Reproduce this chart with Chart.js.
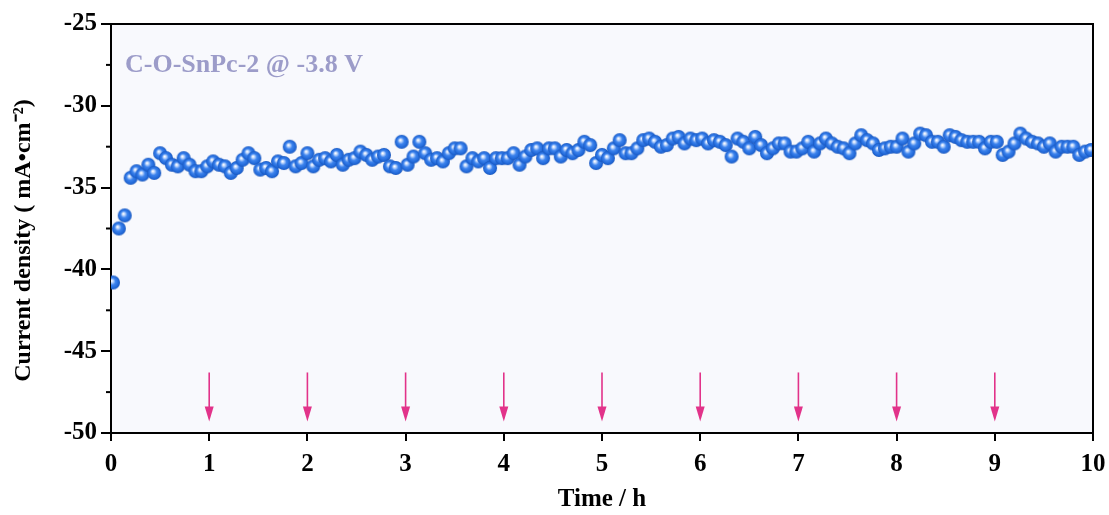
<!DOCTYPE html>
<html>
<head>
<meta charset="utf-8">
<script src="https://cdn.jsdelivr.net/npm/chart.js@4.4.1/dist/chart.umd.min.js"></script>
<style>
  html, body { margin: 0; padding: 0; background: #ffffff; }
  #wrap { width: 1109px; height: 515px; position: relative; }
</style>
</head>
<body>
<div id="wrap"><canvas id="c" width="1109" height="515"></canvas></div>
<script>
// Electrolysis time (h) and recorded current density (mA cm^-2)
const times = [
  0.02, 0.08, 0.14, 0.20, 0.26, 0.32, 0.38, 0.44, 0.50, 0.56,
  0.62, 0.68, 0.74, 0.80, 0.86, 0.92, 0.98, 1.04, 1.10, 1.16,
  1.22, 1.28, 1.34, 1.40, 1.46, 1.52, 1.58, 1.64, 1.70, 1.76,
  1.82, 1.88, 1.94, 2.00, 2.06, 2.12, 2.18, 2.24, 2.30, 2.36,
  2.42, 2.48, 2.54, 2.60, 2.66, 2.72, 2.78, 2.84, 2.90, 2.96,
  3.02, 3.08, 3.14, 3.20, 3.26, 3.32, 3.38, 3.44, 3.50, 3.56,
  3.62, 3.68, 3.74, 3.80, 3.86, 3.92, 3.98, 4.04, 4.10, 4.16,
  4.22, 4.28, 4.34, 4.40, 4.46, 4.52, 4.58, 4.64, 4.70, 4.76,
  4.82, 4.88, 4.94, 5.00, 5.06, 5.12, 5.18, 5.24, 5.30, 5.36,
  5.42, 5.48, 5.54, 5.60, 5.66, 5.72, 5.78, 5.84, 5.90, 5.96,
  6.02, 6.08, 6.14, 6.20, 6.26, 6.32, 6.38, 6.44, 6.50, 6.56,
  6.62, 6.68, 6.74, 6.80, 6.86, 6.92, 6.98, 7.04, 7.10, 7.16,
  7.22, 7.28, 7.34, 7.40, 7.46, 7.52, 7.58, 7.64, 7.70, 7.76,
  7.82, 7.88, 7.94, 8.00, 8.06, 8.12, 8.18, 8.24, 8.30, 8.36,
  8.42, 8.48, 8.54, 8.60, 8.66, 8.72, 8.78, 8.84, 8.90, 8.96,
  9.02, 9.08, 9.14, 9.20, 9.26, 9.32, 9.38, 9.44, 9.50, 9.56,
  9.62, 9.68, 9.74, 9.80, 9.86, 9.92, 9.98
];
const currents = [
  -40.8, -37.5, -36.7, -34.4, -34.0, -34.2, -33.6, -34.1, -32.9, -33.2,
  -33.6, -33.7, -33.2, -33.6, -34.0, -34.0, -33.7, -33.4, -33.6, -33.7,
  -34.1, -33.8, -33.3, -32.9, -33.2, -33.9, -33.8, -34.0, -33.4, -33.5,
  -32.5, -33.7, -33.5, -32.9, -33.7, -33.3, -33.2, -33.4, -33.0, -33.6,
  -33.3, -33.2, -32.8, -33.0, -33.3, -33.1, -33.0, -33.7, -33.8, -32.2,
  -33.6, -33.1, -32.2, -32.9, -33.3, -33.2, -33.4, -32.9, -32.6, -32.6,
  -33.7, -33.2, -33.4, -33.2, -33.8, -33.2, -33.2, -33.2, -32.9, -33.6,
  -33.1, -32.7, -32.6, -33.2, -32.6, -32.6, -33.1, -32.7, -32.9, -32.7,
  -32.2, -32.4, -33.5, -33.0, -33.2, -32.6, -32.1, -32.9, -32.9, -32.6,
  -32.1, -32.0, -32.2, -32.5, -32.4, -32.0, -31.9, -32.3, -32.0, -32.1,
  -32.0, -32.3, -32.1, -32.2, -32.4, -33.1, -32.0, -32.2, -32.6, -31.9,
  -32.4, -32.9, -32.6, -32.3, -32.3, -32.8, -32.8, -32.6, -32.2, -32.8,
  -32.3, -32.0, -32.3, -32.5, -32.6, -32.9, -32.3, -31.8, -32.1, -32.3,
  -32.7, -32.6, -32.5, -32.5, -32.0, -32.8, -32.3, -31.7, -31.8, -32.2,
  -32.2, -32.5, -31.8, -31.9, -32.1, -32.2, -32.2, -32.2, -32.6, -32.2,
  -32.2, -33.0, -32.8, -32.3, -31.7, -32.0, -32.2, -32.3, -32.5, -32.3,
  -32.8, -32.5, -32.5, -32.5, -33.0, -32.8, -32.7
];
// Hours at which the electrolyte was refreshed (arrow markers)
const arrowHours = [1, 2, 3, 4, 5, 6, 7, 8, 9];
const arrowFrom = -46.3;
const arrowTo = -49.3;

const xTicks = [0, 1, 2, 3, 4, 5, 6, 7, 8, 9, 10];
const yTicks = [-50, -45, -40, -35, -30, -25];
const yMinorTicks = [-47.5, -42.5, -37.5, -32.5, -27.5];

const labelText = 'C-O-SnPc-2 @ -3.8 V';
const xTitle = 'Time / h';
const yTitle = 'Current density ( mA\u2022cm\u207B\u00B2)';

const serif = '"Liberation Serif", "Times New Roman", serif';

// Shaded sphere used as the marker
function makeSphere(r) {
  const s = Math.ceil(r * 2 + 2);
  const cv = document.createElement('canvas');
  cv.width = s; cv.height = s;
  const g = cv.getContext('2d');
  const c = s / 2;
  const grad = g.createRadialGradient(c - r * 0.2, c - r * 0.25, r * 0.05, c, c, r);
  grad.addColorStop(0, '#ffffff');
  grad.addColorStop(0.2, '#b3cffb');
  grad.addColorStop(0.45, '#3d84ee');
  grad.addColorStop(0.85, '#1f66d6');
  grad.addColorStop(1, '#1a55b8');
  g.fillStyle = grad;
  g.beginPath();
  g.arc(c, c, r, 0, Math.PI * 2);
  g.fill();
  return cv;
}
const sphere = makeSphere(7);

const plotDecor = {
  id: 'plotDecor',
  beforeDraw(chart) {
    const { ctx, chartArea: a } = chart;
    ctx.save();
    ctx.fillStyle = '#f8f9fd';
    ctx.fillRect(a.left, a.top, a.right - a.left, a.bottom - a.top);
    ctx.restore();
  },
  afterDatasetsDraw(chart) {
    const { ctx, chartArea: a, scales } = chart;
    const x = scales.x, y = scales.y;
    ctx.save();
    // frame: top and right edges
    ctx.strokeStyle = '#000';
    ctx.lineWidth = 2;
    ctx.beginPath();
    ctx.moveTo(a.left, a.top);
    ctx.lineTo(a.right, a.top);
    ctx.lineTo(a.right, a.bottom);
    ctx.stroke();
    // minor ticks on the y axis
    yMinorTicks.forEach(v => {
      const py = y.getPixelForValue(v);
      ctx.beginPath();
      ctx.moveTo(a.left - 5, py);
      ctx.lineTo(a.left, py);
      ctx.stroke();
    });
    // arrows
    ctx.strokeStyle = '#e2338a';
    ctx.fillStyle = '#e2338a';
    ctx.lineWidth = 1.6;
    arrowHours.forEach(h => {
      const px = x.getPixelForValue(h);
      const y0 = y.getPixelForValue(arrowFrom);
      const y1 = y.getPixelForValue(arrowTo);
      ctx.beginPath();
      ctx.moveTo(px, y0);
      ctx.lineTo(px, y1 - 12);
      ctx.stroke();
      ctx.beginPath();
      ctx.moveTo(px - 4.5, y1 - 15);
      ctx.lineTo(px + 4.5, y1 - 15);
      ctx.lineTo(px, y1);
      ctx.closePath();
      ctx.fill();
    });
    // sample label
    ctx.fillStyle = '#9c9cc9';
    ctx.font = 'bold 26px ' + serif;
    ctx.textBaseline = 'middle';
    ctx.textAlign = 'left';
    ctx.fillText(labelText, a.left + 14, 65);
    ctx.restore();
  }
};

new Chart(document.getElementById('c'), {
  type: 'scatter',
  data: {
    datasets: [{
      data: times.map((t, i) => ({ x: t, y: currents[i] })),
      pointStyle: sphere,
      pointRadius: 7,
      pointHoverRadius: 7,
      showLine: false
    }]
  },
  options: {
    responsive: false,
    animation: false,
    events: [],
    layout: { padding: { top: 24, right: 16, left: 0, bottom: 0 } },
    plugins: { legend: { display: false }, tooltip: { enabled: false } },
    scales: {
      x: {
        type: 'linear',
        min: 0, max: 10,
        afterBuildTicks: s => { s.ticks = xTicks.map(v => ({ value: v })); },
        afterFit: s => { s.height = 82; s.paddingLeft = 0; s.paddingRight = 0; },
        border: { display: true, color: '#000', width: 2 },
        grid: { drawOnChartArea: false, drawTicks: true, tickLength: 8, color: '#000', lineWidth: 2 },
        ticks: {
          color: '#000', padding: 9,
          font: { family: serif, size: 25, weight: 'bold' },
          maxRotation: 0
        },
        title: {
          display: true, text: xTitle, color: '#000',
          font: { family: serif, size: 25, weight: 'bold' },
          padding: { top: 2, bottom: 0 }
        }
      },
      y: {
        type: 'linear',
        min: -50, max: -25,
        afterBuildTicks: s => { s.ticks = yTicks.map(v => ({ value: v })); },
        afterFit: s => { s.width = 111; s.paddingTop = 0; s.paddingBottom = 0; },
        border: { display: true, color: '#000', width: 2 },
        grid: { drawOnChartArea: false, drawTicks: true, tickLength: 10, color: '#000', lineWidth: 2 },
        ticks: {
          color: '#000', padding: 4,
          font: { family: serif, size: 25, weight: 'bold' }
        },
        title: {
          display: true, text: yTitle + '\u00A0\u00A0\u00A0\u00A0', color: '#000',
          font: { family: serif, size: 24, weight: 'bold' },
          padding: { top: 9, bottom: 0 }
        }
      }
    }
  },
  plugins: [plotDecor]
});
</script>
</body>
</html>
